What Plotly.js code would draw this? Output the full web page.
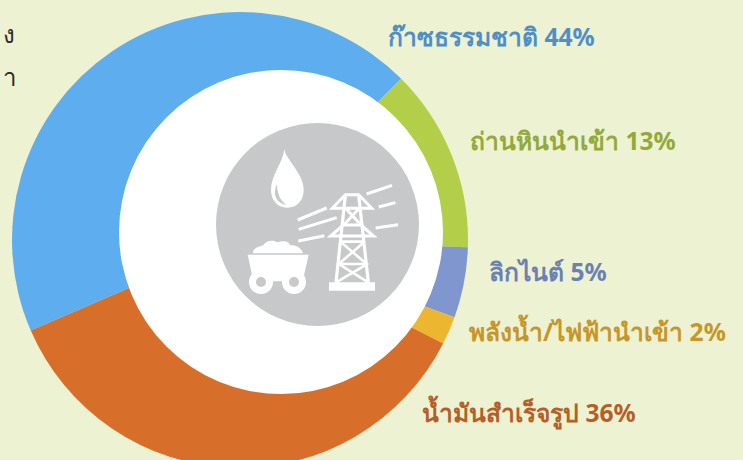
<!DOCTYPE html>
<html><head><meta charset="utf-8">
<script src="https://cdn.plot.ly/plotly-3.0.1.min.js"></script>
<style>html,body{margin:0;padding:0;overflow:hidden;background:#edf2d2}</style></head>
<body><div id="c" style="width:743px;height:520px"></div>
<script>
const categories=['ก๊าซธรรมชาติ','ถ่านหินนำเข้า','ลิกไนต์','พลังน้ำ/ไฟฟ้านำเข้า','น้ำมันสำเร็จรูป'];
const shares=[44,13,5,2,36];
const sliceColors=['#5eadee','#b3ce48','#8096cf','#edb630','#d76f2b'];
const labelColors=['#4f8fc9','#93a93a','#6b80b3','#c79628','#b55f28'];
const labelX=[386,468,487,467,420];
const labelY=[37,141,271,331,412];
const W=743,H=520;
const px=x=>x/W, py=y=>1-y/H;
const zoomPath=(s,ox,oy)=>s.replace(/(-?[\d.]+) (-?[\d.]+)/g,(m,a,b)=>px(ox+a/3).toFixed(5)+','+py(oy+b/3).toFixed(5));
const circ=(cx,cy,r,c)=>({type:'circle',xref:'paper',yref:'paper',x0:px(cx-r),x1:px(cx+r),y0:py(cy+r),y1:py(cy-r),fillcolor:c,line:{width:0},layer:'above'});
const fillP=(s,c,ox=200,oy=110)=>({type:'path',xref:'paper',yref:'paper',path:zoomPath(s,ox,oy),fillcolor:c,line:{width:0},layer:'above'});
const seg=(s,w=3)=>({type:'path',xref:'paper',yref:'paper',path:zoomPath(s,200,110),line:{color:'#fff',width:w},layer:'above'});
const GREY='#c7c8ca';
const shapes=[
 circ(281,232,162,'#ffffff'),circ(317.5,224.5,101.5,GREY),
 fillP('M253 118 C258 150 311 190 311 240 C311 272 290 293 262 293 C234 293 213 272 213 240 C213 195 248 160 253 118 Z','#fff'),
 fillP('M231 222 C218 250 225 280 262 285 C240 275 232 250 231 222 Z',GREY),
 seg('M293 330 L380 294'),seg('M296 358 L410 323'),seg('M295 393 L373 377'),
 seg('M500 252 L576 226'),seg('M536 291 L586 278'),seg('M527 354 L594 344'),
 fillP('M387 517 L525 517 L525 542 L387 542 Z','#fff'),
 seg('M408 517 L436 256 M505 517 L476 256',3.2),
 seg('M397 295 L436 254 L476 254 L515 295 Z'),
 seg('M392 378 L430 345 L483 345 L521 378 Z'),
 seg('M437 295 L483 345 M478 295 L431 345'),
 seg('M425 395 L495 395 M421 395 L500 462 M494 395 L416 462 M416 462 L505 462 M416 462 L505 517 M503 462 L408 517',2.6),
 fillP('M158 430 C160 412 178 410 190 405 C198 392 220 388 232 397 C250 390 268 395 270 405 C290 405 305 415 309 430 Z','#fff'),
 fillP('M143 434 L326 434 L308 514 L160 514 Z','#fff'),
 circ(261,282,12,'#fff'),circ(261,282,5,GREY),circ(294,282,12,'#fff'),circ(294,282,5,GREY)
];
const annotations=categories.map((c,i)=>({text:'<b>'+c+' '+shares[i]+'%</b>',xref:'paper',yref:'paper',x:px(labelX[i]),y:py(labelY[i]),xanchor:'left',yanchor:'middle',showarrow:false,align:'left',font:{family:'"Noto Sans","Open Sans",sans-serif',size:24.6,color:labelColors[i]}}));
annotations.push({text:'ง',xref:'paper',yref:'paper',x:px(1),y:py(33),xanchor:'left',yanchor:'middle',showarrow:false,font:{family:'"Noto Sans",sans-serif',size:24,color:'#2b2b2b'}});
annotations.push({text:'า',xref:'paper',yref:'paper',x:px(1),y:py(76),xanchor:'left',yanchor:'middle',showarrow:false,font:{family:'"Noto Sans",sans-serif',size:24,color:'#2b2b2b'}});
Plotly.newPlot('c',[{type:'pie',labels:categories,values:shares,sort:false,direction:'clockwise',rotation:246.6,
 marker:{colors:sliceColors,line:{width:0}},textinfo:'none',hoverinfo:'label+percent',showlegend:false,
 domain:{x:[12/W,468/W],y:[py(468),py(12)]}}],
 {width:W,height:H,margin:{l:0,r:0,t:0,b:0},paper_bgcolor:'#edf2d2',plot_bgcolor:'#edf2d2',showlegend:false,shapes,annotations},
 {displayModeBar:false,staticPlot:true});
</script></body></html>
